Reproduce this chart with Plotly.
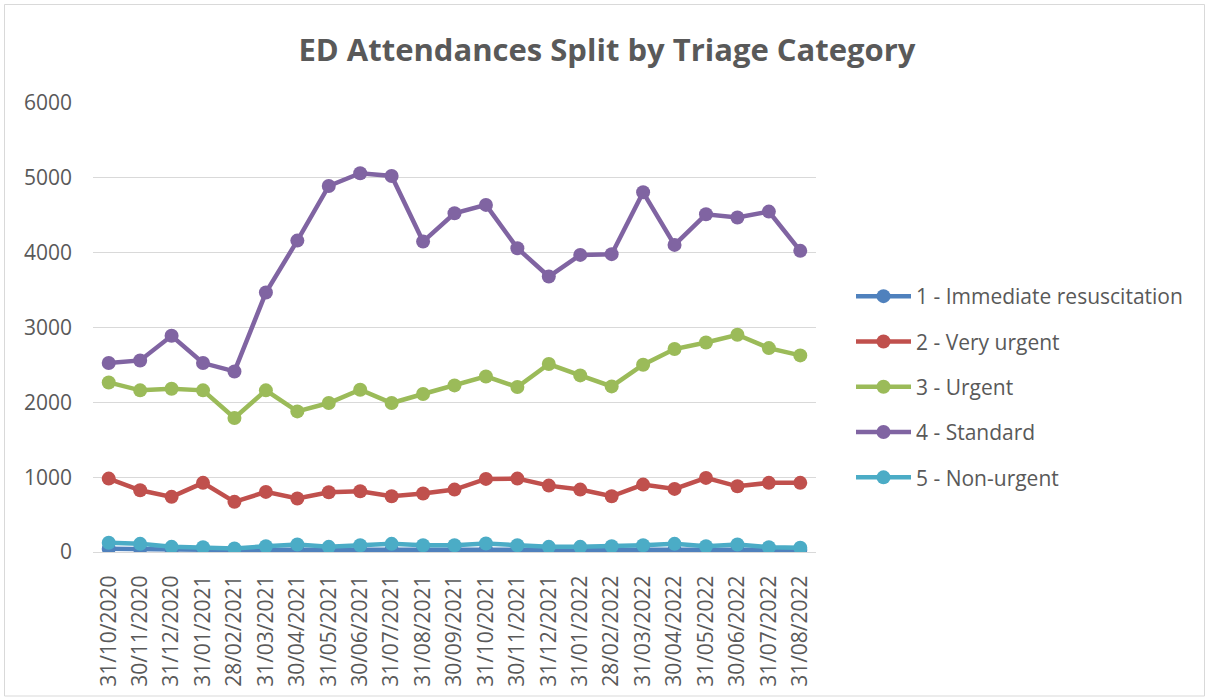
import plotly.graph_objects as go

dates = ["31/10/2020", "30/11/2020", "31/12/2020", "31/01/2021", "28/02/2021", "31/03/2021",
         "30/04/2021", "31/05/2021", "30/06/2021", "31/07/2021", "31/08/2021", "30/09/2021",
         "31/10/2021", "30/11/2021", "31/12/2021", "31/01/2022", "28/02/2022", "31/03/2022",
         "30/04/2022", "31/05/2022", "30/06/2022", "31/07/2022", "31/08/2022"]

immediate = [45, 40, 30, 30, 25, 30, 30, 25, 30, 30, 30, 35, 35, 35, 30, 30, 35, 30, 30, 35, 30, 35, 30]
very_urgent = [981, 825, 737, 924, 670, 803, 714, 798, 811, 745, 781, 834, 977, 981, 887, 834, 745,
               901, 843, 990, 878, 924, 924]
urgent = [2266, 2160, 2182, 2160, 1791, 2160, 1879, 1991, 2169, 1991, 2111, 2226, 2346, 2205, 2512,
          2360, 2213, 2502, 2712, 2800, 2903, 2725, 2627]
standard = [2525, 2560, 2889, 2525, 2413, 3467, 4161, 4891, 5061, 5025, 4148, 4527, 4638, 4060, 3681,
            3970, 3980, 4807, 4104, 4513, 4469, 4549, 4024]
non_urgent = [123, 109, 69, 64, 47, 77, 100, 69, 91, 109, 91, 91, 113, 91, 69, 69, 77, 91, 109, 77,
              100, 64, 56]

series = [
    ("1 - Immediate resuscitation", immediate, "#4F81BD"),
    ("2 - Very urgent", very_urgent, "#C0504D"),
    ("3 - Urgent", urgent, "#9BBB59"),
    ("4 - Standard", standard, "#8064A2"),
    ("5 - Non-urgent", non_urgent, "#4BACC6"),
]

fig = go.Figure()
for i, (name, vals, col) in enumerate(series):
    fig.add_trace(go.Scatter(
        x=dates, y=vals, name=name, mode="lines+markers",
        line=dict(color=col, width=4.5),
        marker=dict(color=col, size=14),
        legendgroup=f"g{i}",
    ))

txt = "#595959"
L, R, T, B = 93, 392, 103, 147
W, H = 1208, 699
pw, ph = W - L - R, H - T - B

fig.update_layout(
    width=W, height=H,
    margin=dict(l=L, r=R, t=T, b=B, autoexpand=False),
    paper_bgcolor="white", plot_bgcolor="white",
    font=dict(family="Open Sans", color=txt),
    title=dict(text="<b>ED Attendances Split by Triage Category</b>",
               x=607 / W, xanchor="center", y=1 - 50 / H, yanchor="middle",
               font=dict(size=31, color=txt, family="Open Sans")),
    legend=dict(x=(851 - L) / pw, xanchor="left", y=(552 - 387) / ph, yanchor="middle",
                font=dict(size=21, color=txt), tracegroupgap=15, itemwidth=55,
                bgcolor="rgba(0,0,0,0)"),
    showlegend=True,
    xaxis=dict(type="category", range=[-0.5, len(dates) - 0.5], tickangle=-90,
               tickfont=dict(size=21, color=txt), automargin=False,
               showgrid=False, showline=True, linecolor="#D9D9D9", linewidth=1,
               ticks="", ticklabelstandoff=14, fixedrange=True),
    yaxis=dict(range=[0, 6000], dtick=1000, tickfont=dict(size=21, color=txt),
               automargin=False,
               showgrid=True, gridcolor="#D9D9D9", gridwidth=1, zeroline=False,
               showline=False, ticks="", ticklabelstandoff=20),
    shapes=[dict(type="rect", xref="paper", yref="paper",
                 x0=(4.5 - L) / pw, x1=(1204.5 - L) / pw,
                 y0=(H - B - 696) / ph, y1=(H - B - 4.5) / ph,
                 line=dict(color="#D9D9D9", width=1), fillcolor="rgba(0,0,0,0)",
                 layer="below")],
)

fig.write_html("out.html")
